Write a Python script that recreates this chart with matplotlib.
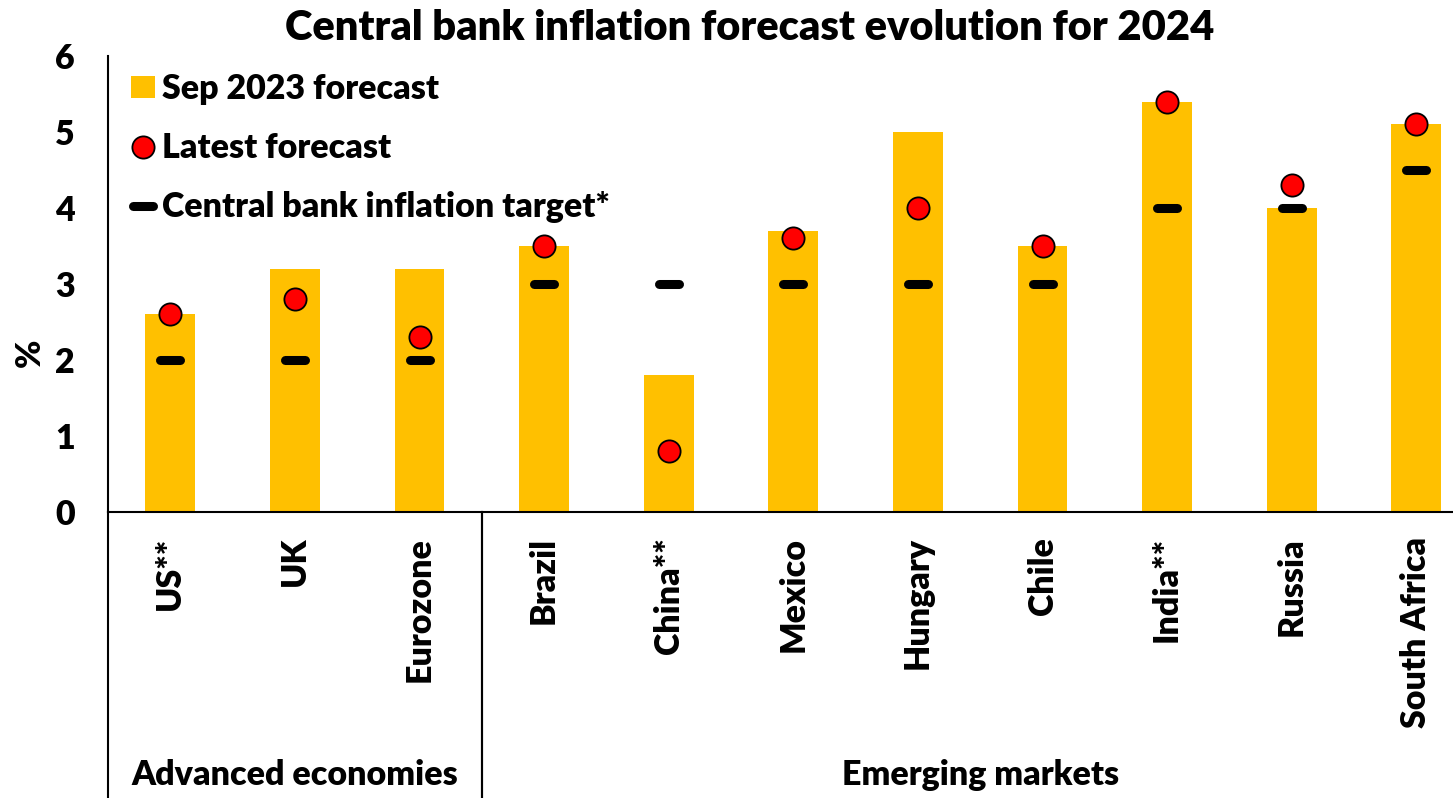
import matplotlib.pyplot as plt
from matplotlib.markers import MarkerStyle

# Inflation forecasts for 2024 (%)
countries = ['US**', 'UK', 'Eurozone', 'Brazil', 'China**', 'Mexico',
             'Hungary', 'Chile', 'India**', 'Russia', 'South Africa']
sep_2023 = [2.6, 3.2, 3.2, 3.5, 1.8, 3.7, 5.0, 3.5, 5.4, 4.0, 5.1]
latest = [2.6, 2.8, 2.3, 3.5, 0.8, 3.6, 4.0, 3.5, 5.4, 4.3, 5.1]
target = [2, 2, 2, 3, 3, 3, 3, 3, 4, 4, 4.5]
groups = ['Advanced economies', 'Emerging markets']
group_sizes = [3, 8]

plt.rcParams['font.family'] = ['Lato', 'DejaVu Sans']
plt.rcParams['font.weight'] = 'heavy'
plt.rcParams['axes.labelweight'] = 'heavy'
FS = 24.5

fig = plt.figure(figsize=(14.53, 7.98), dpi=100)
W, H = 1453, 798
x0, x1 = 108, 108 + 11 * 124.6
y0, y1 = 512, 56
ax = fig.add_axes([x0 / W, (H - y0) / H, (x1 - x0) / W, (y0 - y1) / H])

xs = range(len(countries))
bars = ax.bar(xs, sep_2023, width=0.4, color='#FFC000', label='Sep 2023 forecast', zorder=1)
dots, = ax.plot(xs, latest, 'o', ms=16, mfc='#FF0000', mec='black', mew=1.3,
                label='Latest forecast', zorder=3)
dash = MarkerStyle('_', capstyle='round')
dashes, = ax.plot(xs, target, ls='none', marker=dash, ms=14, mew=6.5, color='black',
                  label='Central bank inflation target*', zorder=2)

ax.set_xlim(-0.5, len(countries) - 0.5)
ax.set_ylim(0, 6)
ax.set_yticks(range(0, 7))
ax.tick_params(axis='y', length=0, pad=24, labelsize=FS)
ax.set_xticks(list(xs))
ax.set_xticklabels(countries, rotation=90, fontsize=FS)
ax.tick_params(axis='x', length=0, pad=18)
ax.set_ylabel('%', fontsize=FS)
ax.yaxis.set_label_coords((46 - x0) / (x1 - x0), 0.35)

for s in ['top', 'right']:
    ax.spines[s].set_visible(False)
ax.spines['left'].set_linewidth(1.5)
ax.spines['bottom'].set_linewidth(1.5)

# category group separators and labels below the axis
bottom = -(H - y0) / (y0 - y1)
trans = ax.get_xaxis_transform()
start = -0.5
for name, n in zip(groups, group_sizes):
    end = start + n
    ax.plot([start, start], [0, bottom], color='black', lw=1.5,
            transform=trans, clip_on=False)
    ax.plot([end, end], [0, bottom], color='black', lw=1.5,
            transform=trans, clip_on=False)
    ax.text((start + end) / 2, -(775 - y0) / (y0 - y1), name, transform=trans,
            ha='center', va='center', fontsize=FS)
    start = end

ax.legend([bars, dots, dashes],
          ['Sep 2023 forecast', 'Latest forecast', 'Central bank inflation target*'],
          loc='upper left', bbox_to_anchor=((131 - x0) / (x1 - x0), (y0 - 73) / (y0 - y1)),
          frameon=False, fontsize=FS, handlelength=0.7, handleheight=0.62,
          handletextpad=0.2, labelspacing=0.8, borderaxespad=0, borderpad=0)

fig.text(750 / W, 1 - 28 / H, 'Central bank inflation forecast evolution for 2024',
         ha='center', va='center', fontsize=30)

fig.savefig('out.png', dpi=100)
